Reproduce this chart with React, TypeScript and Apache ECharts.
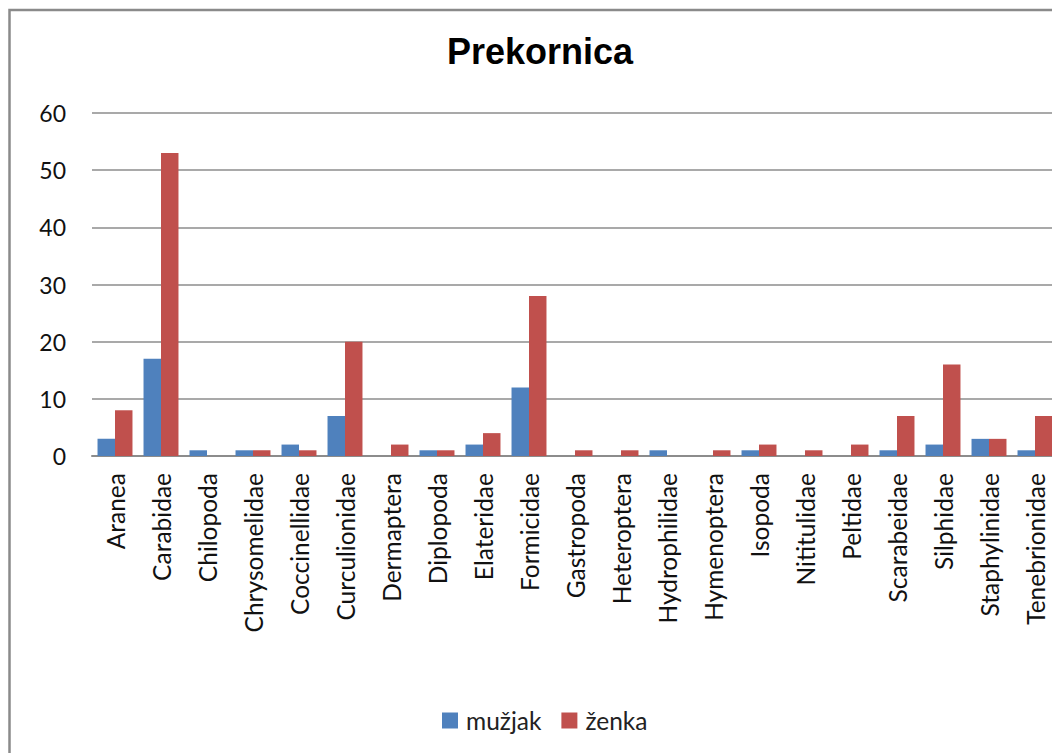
import React, { useEffect, useRef } from "react";
import * as echarts from "echarts";

const categories = [
  "Aranea", "Carabidae", "Chilopoda", "Chrysomelidae", "Coccinellidae", "Curculionidae",
  "Dermaptera", "Diplopoda", "Elateridae", "Formicidae", "Gastropoda", "Heteroptera",
  "Hydrophilidae", "Hymenoptera", "Isopoda", "Nititulidae", "Peltidae", "Scarabeidae",
  "Silphidae", "Staphylinidae", "Tenebrionidae",
];
const muzjak = [3, 17, 1, 1, 2, 7, 0, 1, 2, 12, 0, 0, 1, 0, 1, 0, 0, 1, 2, 3, 1];
const zenka = [8, 53, 0, 1, 1, 20, 2, 1, 4, 28, 1, 1, 0, 1, 2, 1, 2, 7, 16, 3, 7];
const seriesNames = ["mužjak", "ženka"];
const yTicks = { min: 0, max: 60, interval: 10 };

const FONT = "Lato, 'Open Sans', sans-serif";

export default function App() {
  const ref = useRef<HTMLDivElement>(null);
  useEffect(() => {
    if (!ref.current) return;
    const chart = echarts.init(ref.current, undefined, { renderer: "svg" });
    chart.setOption({
      animation: false,
      backgroundColor: "#ffffff",
      title: {
        text: "Prekornica",
        left: 535,
        textAlign: "center",
        top: 28,
        textStyle: { fontFamily: "'Liberation Sans', Arial, sans-serif", fontSize: 36, fontWeight: "bold", color: "#000" },
      },
      graphic: [
        {
          type: "rect",
          shape: { x: 9.5, y: 10, width: 1200, height: 1000 },
          style: { fill: "none", stroke: "#8a8a8a", lineWidth: 2.5 },
          silent: true,
        },
      ],
      legend: {
        data: seriesNames,
        left: 437,
        top: 703,
        itemWidth: 16,
        itemHeight: 16,
        itemGap: 20,
        icon: "rect",
        textStyle: { fontFamily: FONT, fontSize: 24.5, color: "#222", padding: [0, 0, 0, 3] },
      },
      grid: { left: 92, top: 113, right: 22, bottom: 297, containLabel: false },
      xAxis: {
        type: "category",
        data: categories,
        axisLine: { lineStyle: { color: "#8c8c8c", width: 2 } },
        axisTick: { show: false },
        axisLabel: {
          rotate: 90,
          interval: 0,
          margin: 17,
          fontFamily: FONT,
          fontSize: 24.5,
          color: "#111",
        },
      },
      yAxis: {
        type: "value",
        min: yTicks.min,
        max: yTicks.max,
        interval: yTicks.interval,
        axisLine: { show: false },
        axisTick: { show: false },
        splitLine: { lineStyle: { color: "#8c8c8c", width: 1.5 } },
        axisLabel: { margin: 26, fontFamily: FONT, fontSize: 23, color: "#111" },
      },
      series: [
        {
          name: seriesNames[0],
          type: "bar",
          data: muzjak,
          barGap: "0%",
          barCategoryGap: "24%",
          itemStyle: { color: "#4F81BD" },
        },
        {
          name: seriesNames[1],
          type: "bar",
          data: zenka,
          barGap: "0%",
          barCategoryGap: "24%",
          itemStyle: { color: "#C0504D" },
        },
      ],
    });
    return () => chart.dispose();
  }, []);
  return (
    <div style={{ position: "fixed", left: 0, top: 0, width: 1052, height: 753, overflow: "hidden", background: "#fff" }}>
      <div ref={ref} style={{ width: 1080, height: 753 }} />
    </div>
  );
}
